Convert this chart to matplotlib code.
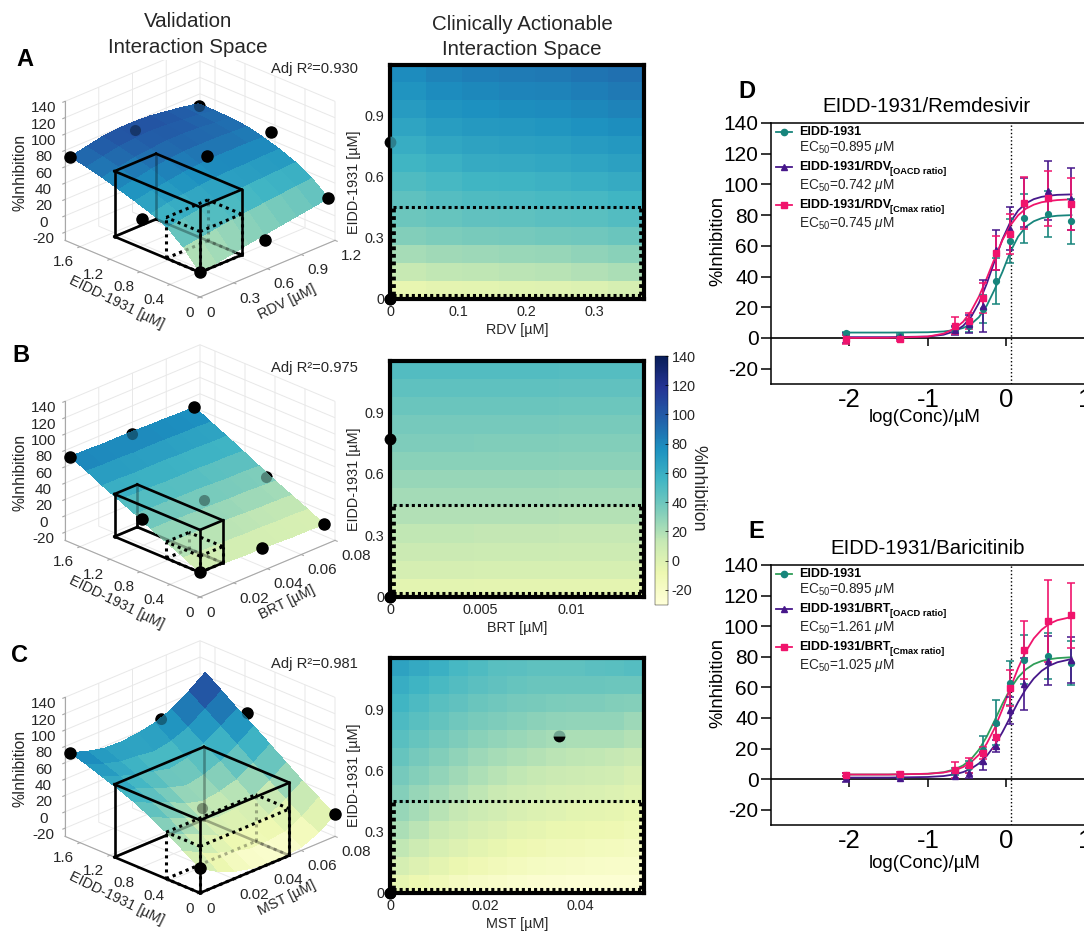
import matplotlib
matplotlib.use('Agg')
import matplotlib.pyplot as plt
import numpy as np
from matplotlib.colors import Normalize
from matplotlib.lines import Line2D
from matplotlib.cm import ScalarMappable
from mpl_toolkits.mplot3d import proj3d

plt.rcParams['font.family'] = 'Liberation Sans'
plt.rcParams['mathtext.fontset'] = 'custom'
plt.rcParams['mathtext.rm'] = 'Liberation Sans'
plt.rcParams['mathtext.it'] = 'Liberation Sans:italic'
plt.rcParams['mathtext.bf'] = 'Liberation Sans:bold'
plt.rcParams['axes.unicode_minus'] = False

W, H = 1084, 932
cmap = plt.get_cmap('YlGnBu')
norm = Normalize(-30, 140)
dark = '#262626'

# surface grids
eidd_grid = [0, 0.216, 0.432, 0.648, 0.865, 1.08, 1.30, 1.51, 1.73]
rdv_grid = [0, 0.1425, 0.285, 0.4275, 0.57, 0.7125, 0.855, 0.9975, 1.14]
brt_grid = [0, 0.0092, 0.0184, 0.0276, 0.0368, 0.046, 0.0552, 0.0644, 0.0736]
mst_grid = [0, 0.01, 0.02, 0.03, 0.04, 0.05, 0.06, 0.07, 0.08]

surf_a = [[0, 3, 6, 10, 13, 16, 19, 22, 25],
          [22, 25, 28, 31, 33, 35, 37, 39, 41],
          [38, 41, 44, 46, 48, 49, 50, 51, 52],
          [47, 51, 54, 56, 58, 59, 59, 60, 60],
          [54, 58, 61, 64, 66, 67, 67, 67, 66],
          [60, 64, 68, 71, 73, 73, 73, 72, 71],
          [66, 70, 74, 76, 78, 78, 77, 75, 73],
          [71, 75, 79, 81, 82, 81, 79, 77, 74],
          [75, 79, 83, 85, 85, 84, 81, 78, 74]]
surf_b = [[0, -1, -1, -2, -2, -3, -4, -4, -5],
          [10, 9, 8, 8, 7, 7, 6, 6, 5],
          [19, 18, 18, 17, 17, 16, 15, 15, 14],
          [28, 28, 27, 26, 26, 25, 25, 24, 23],
          [38, 37, 37, 36, 36, 35, 34, 34, 33],
          [47, 46, 46, 45, 45, 45, 44, 44, 43],
          [56, 56, 55, 55, 55, 54, 54, 53, 53],
          [66, 65, 65, 64, 64, 64, 63, 63, 62],
          [75, 75, 74, 74, 74, 73, 73, 72, 72]]
surf_c = [[0, -12, -21, -26, -29, -28, -26, -17, -3],
          [13, 2, -7, -14, -19, -18, -16, -6, 9],
          [26, 16, 7, -3, -8, -7, -4, 7, 21],
          [37, 28, 19, 8, 3, 5, 9, 21, 35],
          [47, 38, 30, 20, 14, 17, 23, 35, 49],
          [55, 47, 39, 31, 25, 29, 37, 49, 63],
          [62, 54, 47, 42, 37, 41, 50, 63, 76],
          [69, 61, 55, 53, 50, 54, 62, 76, 90],
          [75, 68, 63, 62, 64, 68, 76, 89, 104]]

# measured points, first the ones lying under the surface
pts_a_under = ([0.576, 1.14], [1.73, 1.73], [74, 71])
pts_a_over = ([0, 0, 0, 0.576, 0.576, 1.14, 1.14], [0, 0.77, 1.73, 0, 0.77, 0, 0.77], [0, 36, 75, 7, 79, 25, 76])
pts_b_under = ([0.0368, 0.0368, 0.0736], [0.77, 1.73, 0.77], [27, 71, 24])
pts_b_over = ([0, 0, 0, 0.0368, 0.0736, 0.0736], [0, 0.77, 1.73, 0, 0, 1.73], [0, 36, 75, -2, -5, 72])
pts_c_under = ([0.0355, 0.0536, 0.076], [0.77, 1.73, 1.08], [13, 70, 83])
pts_c_over = ([0, 0, 0.08], [0, 1.73, 0], [0, 75, -3])

# heatmaps, bottom row first
heat_a = [[-6, -4, -3, -2, -1, 1, 4],
          [12, 14, 15, 16, 17, 19, 21],
          [22, 24, 25, 26, 27, 29, 31],
          [33, 35, 36, 37, 38, 39, 41],
          [40, 42, 44, 45, 46, 47, 49],
          [45, 48, 50, 51, 52, 53, 55],
          [50, 53, 55, 56, 57, 59, 61],
          [55, 58, 61, 62, 63, 65, 67],
          [60, 64, 66, 67, 68, 70, 72],
          [65, 69, 71, 72, 73, 75, 77],
          [70, 74, 76, 77, 78, 80, 82],
          [74, 78, 80, 81, 82, 84, 86],
          [78, 82, 84, 85, 86, 88, 90]]
heat_b = [[-3, -3.5, -4], [5, 4.5, 4], [10, 9.5, 9], [14, 13.5, 13], [19, 18.5, 18],
          [23, 22.5, 22], [27, 26.5, 26], [31, 30.5, 30], [34, 33.5, 33], [37, 36.5, 36],
          [41, 40.5, 40], [45, 44.5, 44], [49, 48.5, 48]]
heat_c = [[-5, -9, -13, -17, -20, -22, -24, -25, -26, -27, -27, -27, -27],
          [5, 0, -4, -8, -11, -14, -16, -18, -19, -20, -21, -22, -22],
          [14, 9, 4, 0, -3, -6, -9, -11, -13, -14, -15, -16, -17],
          [21, 16, 11, 7, 3, 0, -3, -5, -7, -8, -9, -10, -12],
          [27, 22, 17, 13, 9, 6, 3, 1, -1, -3, -4, -5, -7],
          [32, 27, 23, 19, 15, 11, 8, 6, 4, 3, 2, 1, -2],
          [37, 32, 28, 24, 20, 17, 14, 12, 10, 9, 8, 7, 3],
          [42, 37, 33, 29, 25, 22, 20, 18, 16, 15, 14, 13, 10],
          [47, 42, 38, 34, 31, 28, 26, 24, 22, 21, 21, 21, 18],
          [51, 47, 43, 39, 36, 34, 32, 30, 29, 28, 28, 28, 25],
          [55, 51, 47, 44, 41, 39, 37, 36, 35, 34, 34, 33, 32],
          [60, 56, 52, 49, 46, 44, 42, 41, 41, 41, 41, 40, 40],
          [66, 62, 58, 53, 50, 47, 46, 45, 45, 45, 46, 47, 48]]

# dose response data
log_conc = [-2.04, -1.35, -0.65, -0.48, -0.30, -0.13, 0.05, 0.23, 0.53, 0.83]
eidd_y = [3, 1.5, 5, 8, 19, 37, 63, 78, 80.5, 76]
eidd_err = [1, 1, 2, 4, 9, 15, 14.5, 16, 15, 14.5]
rdv_oacd_y = [0, 0.5, 5, 9, 21, 57, 71, 88, 96, 90.5]
rdv_oacd_err = [3, 1, 3, 6, 17, 13, 14, 16, 19, 20]
rdv_cmax_y = [-1, -1, 8, 11, 26, 55.5, 67.5, 88, 91, 87.5]
rdv_cmax_err = [3, 1, 5.5, 5, 10, 11, 13, 17, 18, 17]
brt_oacd_y = [1, 1, 2, 4, 12, 21.5, 45, 62.5, 77.5, 78]
brt_oacd_err = [3, 1, 2, 3, 6, 4, 9, 17, 16, 15]
brt_cmax_y = [3, 3.5, 6, 9, 17, 27.5, 59.5, 84.5, 103.5, 107]
brt_cmax_err = [1, 1, 5, 5, 4, 8, 12, 19, 27, 21]

fit_x = [-2.04, -1.5, -1, -0.8, -0.65, -0.55, -0.45, -0.35, -0.25, -0.15, -0.05,
         0.05, 0.15, 0.25, 0.35, 0.45, 0.55, 0.65, 0.83]
fit_eidd_d = [3.5, 3.5, 3.7, 4.2, 5.2, 6.5, 9, 13.5, 21, 31.5, 43, 56, 66, 72.5, 76, 78, 79, 79.6, 80]
fit_rdv_oacd = [0.5, 0.5, 0.9, 2.1, 4.5, 7.9, 13.6, 22.7, 35.3, 50, 64.2, 75.4, 83, 87.7, 90.4, 91.9, 92.7, 93.2, 93.5]
fit_rdv_cmax = [0, 0.1, 0.9, 2.8, 6.3, 10.6, 17.4, 26.9, 38.8, 51.7, 63.7, 73.2, 79.9, 84.2, 86.8, 88.4, 89.2, 89.8, 90.3]
fit_eidd_e = [3, 3, 3.5, 4.5, 6.5, 9, 13, 19.2, 27.8, 38.2, 49.2, 59, 66.6, 71.8, 75.2, 77.2, 78.4, 79.1, 79.7]
fit_brt_oacd = [1, 1, 1.4, 2, 3.2, 4.6, 6.8, 10.2, 15.2, 22, 30.7, 40.5, 50.4, 59, 65.8, 70.8, 74.2, 76.4, 78.5]
fit_brt_cmax = [3, 3, 3.5, 4.3, 5.9, 7.9, 11, 15.9, 23.2, 33.2, 45.7, 59.4, 72.6, 83.6, 92, 97.7, 101.6, 103.9, 106]

z_ticks = [-20, 0, 20, 40, 60, 80, 100, 120, 140]
eidd_ticks = [0, 0.4, 0.8, 1.2, 1.6]
eidd_heat_ticks = [0, 0.3, 0.6, 0.9]


def fx(px):
    return px / W


def fy(py):
    return 1 - py / H


def txt(x, y, s, **kw):
    kw.setdefault('ha', 'center')
    kw.setdefault('va', 'center')
    return fig.text(fx(x), fy(y), s, **kw)


def corner_px(ax, x, y, z):
    xp, yp, _ = proj3d.proj_transform(x, y, z, ax.get_proj())
    return ax.transData.transform((xp, yp))


def place_3d(ax, xlim, ylim, zlim, front, width):
    # size and shift the square 3D axes so the floor corner lands on the right pixel
    size = 400
    ax.set_position([0, 0, size / W, size / H])
    fig.canvas.draw()
    a = corner_px(ax, xlim[0], ylim[0], zlim[0])
    b = corner_px(ax, xlim[0], ylim[1], zlim[0])
    size = size * width / abs(a[0] - b[0])
    ax.set_position([0, 0, size / W, size / H])
    fig.canvas.draw()
    a = corner_px(ax, xlim[0], ylim[0], zlim[0])
    left = front[0] - a[0]
    bottom = (H - front[1]) - a[1]
    ax.set_position([left / W, bottom / H, size / W, size / H])


def box_edges(ax, x1, y1, z0, z1, ls, lw):
    xs = [0, x1]
    ys = [0, y1]
    shown = dict(color='k', ls=ls, lw=lw, zorder=5)
    # edges meeting at the far bottom corner go under the surface and show through it
    for zo, al in [(1, 1), (3, 0.3)]:
        hidden = dict(color='k', ls=ls, lw=lw, zorder=zo, alpha=al)
        ax.plot([x1, x1], [y1, y1], [z0, z1], **hidden)
        ax.plot([0, x1], [y1, y1], [z0, z0], **hidden)
        ax.plot([x1, x1], [0, y1], [z0, z0], **hidden)
    ax.plot([0, 0], [0, 0], [z0, z1], **shown)
    ax.plot([x1, x1], [0, 0], [z0, z1], **shown)
    ax.plot([0, 0], [y1, y1], [z0, z1], **shown)
    ax.plot([0, x1], [0, 0], [z0, z0], **shown)
    ax.plot([0, 0], [0, y1], [z0, z0], **shown)
    for a in ys:
        ax.plot(xs, [a, a], [z1, z1], **shown)
    for a in xs:
        ax.plot([a, a], ys, [z1, z1], **shown)


def panel_3d(x, y, z, under, over, xmax, xticks, xlabels, xname, cmax, front, box, dots, letter, r2):
    xlim = (0, xmax)
    ylim = (0, 1.8)
    zlim = (-30, 140)
    ax = fig.add_subplot(projection='3d', proj_type='ortho', computed_zorder=False)
    ax.view_init(elev=24.8, azim=-135)
    ax.set_box_aspect((189.5, 189.5, 152))
    ax.set_xlim(*xlim, view_margin=0)
    ax.set_ylim(*ylim, view_margin=0)
    ax.set_zlim(*zlim, view_margin=0)
    ax.patch.set_alpha(0)

    X, Y = np.meshgrid(x, y)
    Z = np.array(z, dtype=float)
    cells = (Z[:-1, :-1] + Z[1:, 1:] + Z[:-1, 1:] + Z[1:, :-1]) / 4
    colors = cmap(Normalize(-30, cmax)(cells))
    ax.plot(under[0], under[1], under[2], 'o', color='k', ms=8, zorder=1)
    ax.plot(under[0], under[1], under[2], 'o', color='k', ms=8, zorder=3, alpha=0.35, mew=0)
    box_edges(ax, box[0], 1.14, box[1], box[2], '-', 1.9)
    ax.plot_surface(X, Y, Z, facecolors=colors, rstride=1, cstride=1, shade=False,
                    linewidth=0, antialiased=False, zorder=2)
    ax.plot(over[0], over[1], over[2], 'o', color='k', ms=8, zorder=6)
    box_edges(ax, box[0], 0.45, box[1], dots, (0, (1, 1.3)), 2.2)

    ax.set_xticks(xticks)
    ax.set_xticklabels(xlabels, ha='left')
    ax.set_yticks(eidd_ticks)
    ax.set_yticklabels(['0', '0.4', '0.8', '1.2', '1.6'], ha='right')
    ax.set_zticks(z_ticks)
    ax.zaxis.set_ticks_position('upper')
    for axis in (ax.xaxis, ax.yaxis, ax.zaxis):
        axis.set_pane_color((1, 1, 1, 0))
        axis.pane.set_edgecolor('#e4e4e4')
        axis.line.set_color('#a8a8a8')
        axis.line.set_linewidth(0.8)
        axis._axinfo['grid'].update(color='#e8e8e8', linewidth=0.7)
        axis._axinfo['tick'].update(inward_factor=0.2, outward_factor=0)
    ax.tick_params(axis='both', labelsize=11, labelcolor=dark, color='#a8a8a8', width=0.7)
    ax.tick_params(axis='x', pad=-3)
    ax.tick_params(axis='y', pad=-3)
    ax.tick_params(axis='z', pad=1)
    place_3d(ax, xlim, ylim, zlim, front, 135)

    fx0, fy0 = front
    txt(fx0 - 83, fy0 + 5, 'EIDD-1931 [µM]', fontsize=10.4, rotation=-26, color=dark)
    txt(fx0 + 87, fy0 + 5, xname + ' [µM]', fontsize=10.4, rotation=26, color=dark)
    txt(20, fy0 - 125, '%Inhibition', fontsize=11.3, rotation=90, color=dark)
    txt(358, fy0 - 228 if letter == 'A' else fy0 - 229, r2, fontsize=10.6, ha='right', color=dark)
    return ax


def panel_heat(values, pos, xmax, xticks, xlabels, xname, dot):
    ax = fig.add_axes([fx(pos[0]), fy(pos[3]), (pos[1] - pos[0]) / W, (pos[3] - pos[2]) / H])
    ax.imshow(values, origin='lower', cmap=cmap, norm=norm, extent=(0, xmax, 0, 1.15),
              aspect='auto', interpolation='nearest', zorder=1)
    ax.set_xlim(0, xmax)
    ax.set_ylim(0, 1.15)
    for s in ax.spines.values():
        s.set_linewidth(3)
        s.set_zorder(4)
    ax.set_xticks(xticks)
    ax.set_xticklabels(xlabels)
    ax.set_yticks(eidd_heat_ticks)
    ax.set_yticklabels(['0', '0.3', '0.6', '0.9'])
    ax.tick_params(length=0, labelsize=10.4, labelcolor=dark, pad=4)
    ax.set_xlabel(xname + ' [µM]', fontsize=10.4, color=dark, labelpad=3)
    ax.set_ylabel('EIDD-1931 [µM]', fontsize=10.4, color=dark, labelpad=3)
    # dashed region that is clinically reachable
    inset = xmax * 0.012
    ax.plot([inset, xmax - inset], [0.45, 0.45], color='k', ls=(0, (1, 1)), lw=2.2, zorder=3)
    ax.plot([inset, inset], [0.02, 0.45], color='k', ls=(0, (0.8, 0.8)), lw=3.4, zorder=3)
    ax.plot([xmax - inset, xmax - inset], [0.02, 0.45], color='k', ls=(0, (0.8, 0.8)), lw=3.4, zorder=3)
    ax.plot([inset, xmax - inset], [0.02, 0.02], color='k', ls=(0, (1, 1)), lw=2.2, zorder=3)
    ax.plot([0, 0], [0, 0], 'o', color='k', ms=7.5, clip_on=False, zorder=5)
    ax.plot(*dot[0], 'o', ms=8.5, clip_on=False, zorder=5, mew=0, **dot[1])
    return ax


def panel_dose(pos, curves, title, title_x, label_y, entries):
    left, right, top, bottom = pos
    ax = fig.add_axes([fx(left), fy(bottom), (right - left) / W, (bottom - top) / H])
    ax.set_xlim(-3, 1.5)
    ax.set_ylim(-30, 140)
    for yv, yerr, fit, col, line_col, marker in curves:
        ax.plot(fit_x, fit, color=line_col, lw=1.3, zorder=2)
        ax.errorbar(log_conc, yv, yerr=yerr, fmt=marker, color=col, ms=4.2, lw=1.2,
                    capsize=3.2, capthick=1.1, zorder=3)
    ax.axhline(0, color='k', lw=1.2, zorder=1)
    ax.axvline(0.055, color='k', ls=':', lw=1, zorder=1)
    ax.vlines([-2, -1, 0], -5, 0, color='k', lw=1.1)
    ax.spines['right'].set_visible(False)
    for s in ax.spines.values():
        s.set_linewidth(1.1)
    ax.set_yticks([-20, 0, 20, 40, 60, 80, 100, 120, 140])
    ax.set_xticks([-2, -1, 0, 1])
    ax.set_xticklabels(['-2', '-1', '0', '1'])
    ax.tick_params(axis='y', labelsize=15, length=7, width=1.1, pad=2)
    ax.tick_params(axis='x', labelsize=18.5, length=0, pad=3)
    txt(title_x, top - 17, title, fontsize=14.7)
    txt(718, (top + bottom) / 2 - 12, '%Inhibition', fontsize=13.2, rotation=90)
    txt(925, label_y, 'log(Conc)/µM', fontsize=13.4)
    # legend drawn by hand so the subscripts and EC50 rows sit where they should
    offs = [(9, 25), (44, 63), (82, 101)]
    for (name, sub, ec, col, line_col, marker), (o1, o2) in zip(entries, offs):
        fig.add_artist(Line2D([fx(776), fx(792)], [fy(top + o1)] * 2, color=line_col, lw=1.3))
        fig.add_artist(Line2D([fx(784)], [fy(top + o1)], color=col, marker=marker, ms=4.5))
        txt(799, top + o1, name, fontsize=9, fontweight='bold', ha='left')
        if sub:
            txt(799 + 91, top + o1 + 4, sub, fontsize=6.7, fontweight='bold', ha='left')
        txt(799, top + o2, 'EC$_{50}$=' + ec + r' $\mathit{\mu}$M', fontsize=9.8, ha='left', color=dark)
    return ax


fig = plt.figure(figsize=(W / 100, H / 100), dpi=100, facecolor='white')

panel_3d(rdv_grid, eidd_grid, surf_a, pts_a_under, pts_a_over, 1.2, [0, 0.3, 0.6, 0.9, 1.2],
         ['0', '0.3', '0.6', '0.9', '1.2'], 'RDV', 115, (200, 297), (0.37, 0, 80), 50, 'A', 'Adj R²=0.930')
panel_3d(brt_grid, eidd_grid, surf_b, pts_b_under, pts_b_over, 0.08, [0, 0.02, 0.04, 0.06, 0.08],
         ['0', '0.02', '0.04', '0.06', '0.08'], 'BRT', 125, (200, 597), (0.0135, 0, 52), 20, 'B', 'Adj R²=0.975')
panel_3d(mst_grid, eidd_grid, surf_c, pts_c_under, pts_c_over, 0.08, [0, 0.02, 0.04, 0.06, 0.08],
         ['0', '0.02', '0.04', '0.06', '0.08'], 'MST', 125, (200, 893), (0.053, -30, 59), 27, 'C', 'Adj R²=0.981')

panel_heat(heat_a, (390, 644, 65, 299), 0.373, [0, 0.1, 0.2, 0.3], ['0', '0.1', '0.2', '0.3'], 'RDV',
           ((0, 0.77), dict(fillstyle='left', markerfacecolor='k', markerfacecoloralt='#2d7f8e')))
panel_heat(heat_b, (390, 644, 361, 597), 0.014, [0, 0.005, 0.01], ['0', '0.005', '0.01'], 'BRT',
           ((0, 0.77), dict(color='k')))
panel_heat(heat_c, (390, 644, 658, 893), 0.0535, [0, 0.02, 0.04], ['0', '0.02', '0.04'], 'MST',
           ((0.0355, 0.77), dict(fillstyle='top', markerfacecolor='#6fa48f', markerfacecoloralt='k')))

cax = fig.add_axes([fx(655), fy(604.5), 12.5 / W, 248.5 / H])
cb = fig.colorbar(ScalarMappable(norm=norm, cmap=cmap), cax=cax, ticks=z_ticks)
cb.outline.set_linewidth(0.3)
cb.ax.tick_params(labelsize=10.4, labelcolor=dark, length=2, width=0.5, direction='in', pad=3)
txt(698, 488, '%Inhibition', fontsize=12.8, rotation=270, color=dark)

teal, purple, pink = '#17857c', '#47178a', '#f0146c'
panel_dose((771, 1124, 123, 384),
           [(eidd_y, eidd_err, fit_eidd_d, teal, teal, 'o'),
            (rdv_oacd_y, rdv_oacd_err, fit_rdv_oacd, purple, purple, '^'),
            (rdv_cmax_y, rdv_cmax_err, fit_rdv_cmax, pink, pink, 's')],
           'EIDD-1931/Remdesivir', 926, 417,
           [('EIDD-1931', '', '0.895', teal, teal, 'o'),
            ('EIDD-1931/RDV', '[OACD ratio]', '0.742', purple, purple, '^'),
            ('EIDD-1931/RDV', '[Cmax ratio]', '0.745', pink, pink, 's')])
green = '#2f9e58'
panel_dose((771, 1124, 565, 825),
           [(eidd_y, eidd_err, fit_eidd_e, teal, green, 'o'),
            (brt_oacd_y, brt_oacd_err, fit_brt_oacd, purple, purple, '^'),
            (brt_cmax_y, brt_cmax_err, fit_brt_cmax, pink, pink, 's')],
           'EIDD-1931/Baricitinib', 928, 863,
           [('EIDD-1931', '', '0.895', teal, green, 'o'),
            ('EIDD-1931/BRT', '[OACD ratio]', '1.261', purple, purple, '^'),
            ('EIDD-1931/BRT', '[Cmax ratio]', '1.025', pink, pink, 's')])

bbox = dict(facecolor='white', edgecolor='none', pad=2)
txt(188, 34.5, 'Validation\nInteraction Space', fontsize=14.8, linespacing=1.45, bbox=bbox, color=dark)
txt(522, 37, 'Clinically Actionable\nInteraction Space', fontsize=14.8, linespacing=1.42, color=dark)
for letter, lx, ly in [('A', 25, 60), ('B', 21, 356), ('C', 20, 655), ('D', 747, 92), ('E', 756, 532)]:
    txt(lx, ly, letter, fontsize=17, fontweight='bold')

fig.savefig('out.png', dpi=100)
